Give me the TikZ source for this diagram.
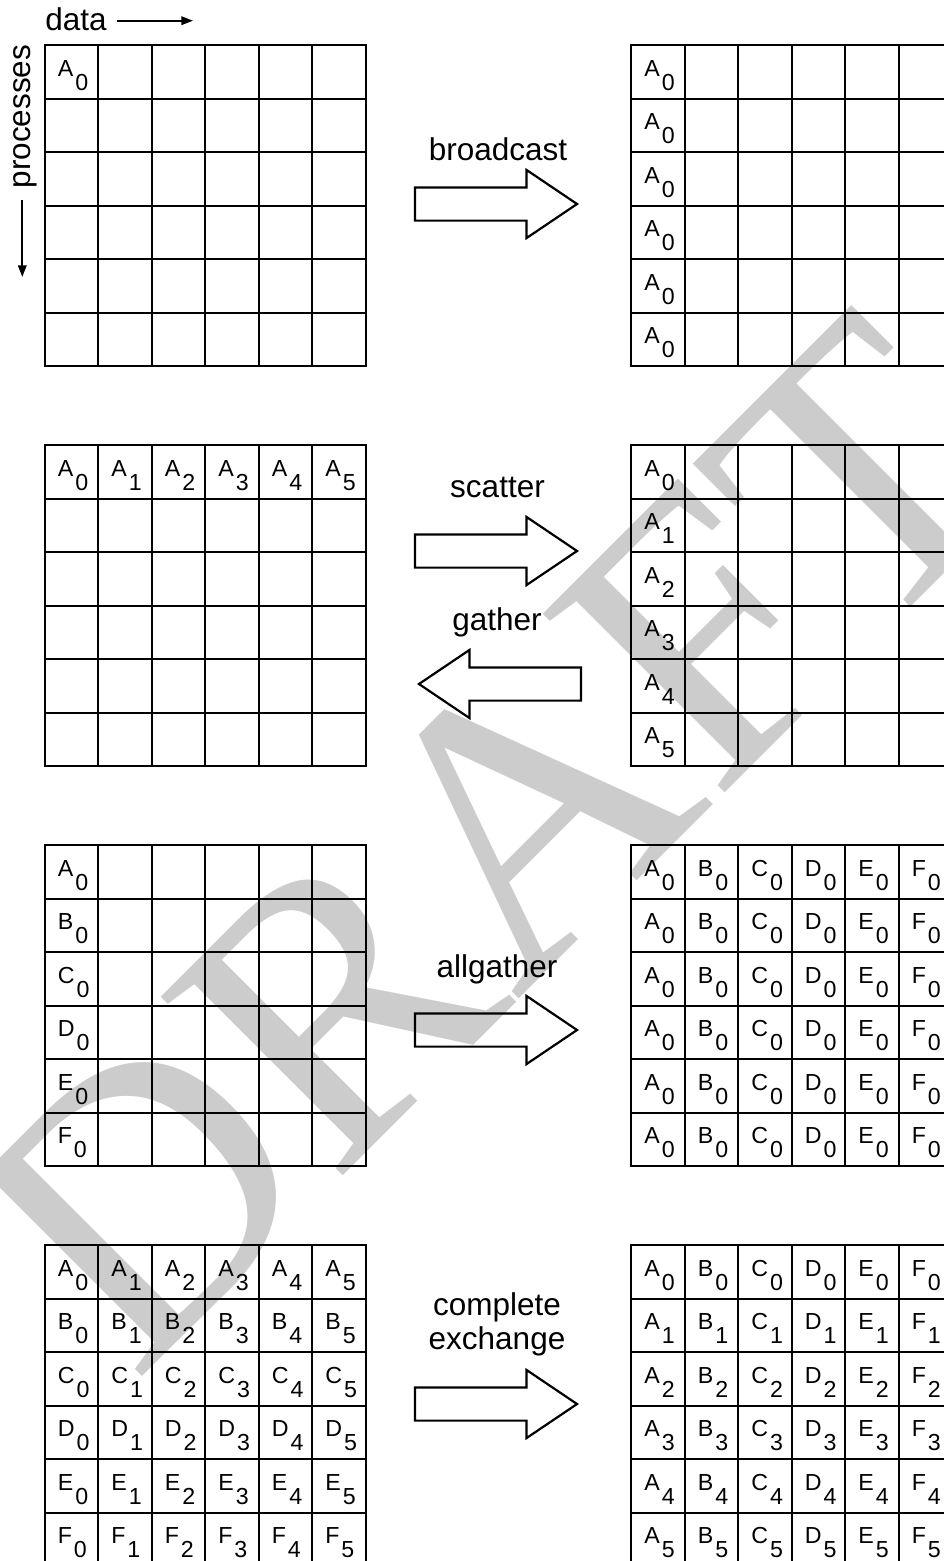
\documentclass[tikz,border=0pt]{standalone}
\usepackage{fontspec}
\setmainfont{Liberation Sans}
\newfontfamily\wmfont{Liberation Serif}
\usetikzlibrary{shapes.arrows,arrows.meta}

% letter with its index set low, as in the cells
\newcommand{\idx}[2]{#1\kern0.05cm\raisebox{-0.35cm}{#2}}

% 6x6 block of cells, top left corner at (#2,#3)
\newcommand{\cellgrid}[3]{%
  \foreach \r in {1,...,6}{%
    \foreach \c in {1,...,6}{%
      \node[cell] (#1-\r-\c) at ({#2+(\c-1)*53.5},{#3+(\r-1)*53.5}) {};
    }%
  }%
}

\begin{document}
\begin{tikzpicture}[
    x=0.025cm, y=-0.025cm,
    cell/.style={draw, line width=0.055cm, minimum size=1.3375cm, inner sep=0pt, anchor=north west},
    entry/.style={anchor=base west, inner sep=0pt, xshift=0.35cm, yshift=-0.8cm, font=\fontsize{16.5pt}{18pt}\selectfont},
    op/.style={inner sep=0pt, font=\fontsize{22.4pt}{24.2pt}\selectfont},
    fat/.style={single arrow, draw, line width=0.055cm, inner sep=0pt, text height=0.775cm, text depth=0pt,
      minimum width=1pt, minimum height=4.05cm, single arrow head extend=0.4375cm, single arrow tip angle=68},
    flow/.style={line width=0.05cm, -{Triangle[length=0.29cm, width=0.21cm]}},
    wm/.style={text=black!20, inner sep=0pt, rotate=45, font=\wmfont\fontsize{277pt}{277pt}\selectfont},
  ]
  \useasboundingbox (0,0) rectangle (944,1561);

  % watermark, behind everything
  \node[wm] (draft) at (495,842) {DRAFT};

  % axes
  \node[op, anchor=base west] (data) at (45,30) {data};
  \coordinate (d0) at (117,20.7);
  \coordinate (d1) at (193,20.7);
  \draw[flow] (d0) -- (d1);
  \node[op, rotate=90] (procs) at (25,116.5) {processes};
  \coordinate (p0) at (22.3,200);
  \coordinate (p1) at (22.3,277);
  \draw[flow] (p0) -- (p1);

  % grids
  \cellgrid{bl}{43.5}{44}
  \cellgrid{br}{630}{44}
  \cellgrid{sl}{43.5}{444}
  \cellgrid{sr}{630}{444}
  \cellgrid{al}{43.5}{844}
  \cellgrid{ar}{630}{844}
  \cellgrid{cl}{43.5}{1244}
  \cellgrid{cr}{630}{1244}

  % broadcast
  \node[entry] (bl-1-1-t) at (bl-1-1.north west) {\idx{A}{0}};
  \foreach \r in {1,...,6}
    \node[entry] (br-\r-1-t) at (br-\r-1.north west) {\idx{A}{0}};

  % scatter / gather
  \foreach \c in {1,...,6}{
    \pgfmathtruncatemacro\s{\c-1}
    \node[entry] (sl-1-\c-t) at (sl-1-\c.north west) {\idx{A}{\s}};
    \node[entry] (sr-\c-1-t) at (sr-\c-1.north west) {\idx{A}{\s}};
  }

  % allgather
  \foreach \L [count=\r] in {A,B,C,D,E,F}{
    \node[entry] (al-\r-1-t) at (al-\r-1.north west) {\idx{\L}{0}};
    \foreach \c in {1,...,6}
      \node[entry] (ar-\c-\r-t) at (ar-\c-\r.north west) {\idx{\L}{0}};
  }

  % complete exchange
  \foreach \L [count=\r] in {A,B,C,D,E,F}{
    \foreach \c in {1,...,6}{
      \pgfmathtruncatemacro\s{\c-1}
      \node[entry] (cl-\r-\c-t) at (cl-\r-\c.north west) {\idx{\L}{\s}};
      \node[entry] (cr-\c-\r-t) at (cr-\c-\r.north west) {\idx{\L}{\s}};
    }
  }

  % operations
  \node[fat, anchor=tip] (bcast) at (579,204) {};
  \node[op, anchor=base] (bcast-t) at (498,160) {broadcast};
  \node[fat, anchor=tip] (scat) at (579,551) {};
  \node[op, anchor=base] (scat-t) at (497.5,497) {scatter};
  \node[fat, shape border rotate=180, anchor=tip] (gath) at (417,684) {};
  \node[op, anchor=base] (gath-t) at (497,630) {gather};
  \node[fat, anchor=tip] (allg) at (579,1030) {};
  \node[op, anchor=base] (allg-t) at (497,977) {allgather};
  \node[fat, anchor=tip] (cex) at (579,1404) {};
  \node[op, anchor=north, align=center] (cex-t) at (497,1292.5) {complete\\exchange};
\end{tikzpicture}
\end{document}
